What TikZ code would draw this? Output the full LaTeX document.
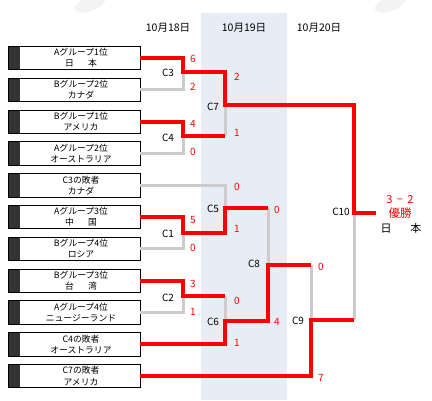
\documentclass[tikz,border=0pt]{standalone}
\usepackage{fontspec}
\newfontfamily\jp{Noto Sans CJK JP}
\definecolor{wred}{RGB}{255,0,0}
\definecolor{lgray}{RGB}{204,204,204}
\definecolor{colbg}{RGB}{230,237,245}
\definecolor{bar}{RGB}{51,51,51}
\definecolor{blob}{RGB}{243,243,243}
\tikzset{
  team/.style={draw=black, line width=0.8pt, minimum width=132pt, minimum height=23.4pt, inner sep=0pt,
    path picture={\fill[bar] (path picture bounding box.north west) rectangle ([xshift=11.5pt]path picture bounding box.south west);}},
  teamtxt/.style={font=\jp\fontsize{8.8}{11.2}\selectfont, align=center, inner sep=0pt},
  hdr/.style={font=\jp\fontsize{10.5}{12}\selectfont, inner sep=0pt},
  mlabel/.style={font=\jp\fontsize{10}{11}\selectfont, inner sep=0pt},
  score/.style={font=\jp\fontsize{10}{11}\selectfont, text=wred, inner sep=0pt},
  win/.style={draw=wred, line width=4pt, line join=miter},
  lose/.style={draw=lgray, line width=3pt, line join=miter},
}
\begin{document}
\begin{tikzpicture}[x=1pt,y=-1pt]
\useasboundingbox (0,0) rectangle (432,400);
\fill[white] (0,0) rectangle (432,400);
% decorative blobs
\fill[blob, rotate around={20:(90,4)}] (90,4) ellipse (16 and 7);
\fill[blob, rotate around={20:(390,4)}] (390,4) ellipse (16 and 7);
% day-2 column
\fill[colbg] (201,13) rectangle (287,400);
% headers
\node[hdr] (h1) at (168,28) {10月18日};
\node[hdr] (h2) at (244,28) {10月19日};
\node[hdr] (h3) at (319,28) {10月20日};
% teams
\foreach \i/\a/\b in {1/Aグループ1位/日\hspace{1.6em}本, 2/Bグループ2位/カナダ, 3/Bグループ1位/アメリカ,
  4/Aグループ2位/オーストラリア, 5/C3の敗者/カナダ, 6/Aグループ3位/中\hspace{1.6em}国,
  7/Bグループ4位/ロシア, 8/Bグループ3位/台\hspace{1.6em}湾, 9/Aグループ4位/ニュージーランド,
  10/C4の敗者/オーストラリア, 11/C7の敗者/アメリカ}{
  \node[team] (t\i) at (74,{58+31.8*(\i-1)}) {};
  \node[teamtxt] (tt\i) at ([xshift=7pt]t\i.center) {\a\\\b};
}
% junction points
\coordinate (c3) at (183,72);
\coordinate (c4) at (183,136);
\coordinate (c7) at (225,105);
\coordinate (c1) at (183,233);
\coordinate (c5) at (225,208);
\coordinate (c2) at (183,296);
\coordinate (c6) at (225,321);
\coordinate (c8) at (268,265);
\coordinate (c9) at (311,320);
\coordinate (c10) at (354,213);
\coordinate (champ) at (376,213);
% losing lines
\draw[lose] (t2.east) -| (c3);
\draw[lose] (t4.east) -| (c4);
\draw[lose] (c4 -| c7) -- (c7);
\draw[lose] (t5.east) -| (c5);
\draw[lose] (t7.east) -| (c1);
\draw[lose] (c5 -| c8) -- (c8);
\draw[lose] (t9.east) -| (c2);
\draw[lose] (c2 -| c6) -- (c6);
\draw[lose] (c8 -| c9) -- (c9);
\draw[lose] (c9 -| c10) -- (c10);
% winning lines
\draw[win] (t1.east) -| (c3) -| (c7) -| (c10) -- (champ);
\draw[win] (t3.east) -| (c4) -- (c4 -| c7);
\draw[win] (t6.east) -| (c1) -| (c5) -- (c5 -| c8);
\draw[win] (t8.east) -| (c2) -- (c2 -| c6);
\draw[win] (t10.east) -| (c6) -| (c8) -- (c8 -| c9);
\draw[win] (t11.east) -| (c9) -- (c9 -| c10);
% match labels
\node[mlabel] (m3) at (168,73) {C3};
\node[mlabel] (m4) at (168,138) {C4};
\node[mlabel] (m7) at (213,107) {C7};
\node[mlabel] (m5) at (213,209) {C5};
\node[mlabel] (m1) at (168,234) {C1};
\node[mlabel] (m2) at (168,298) {C2};
\node[mlabel] (m6) at (213,322) {C6};
\node[mlabel] (m8) at (254,264) {C8};
\node[mlabel] (m9) at (298,321) {C9};
\node[mlabel] (m10) at (341,212) {C10};
% scores
\node[score] at (193,59) {6};
\node[score] at (193,87) {2};
\node[score] at (193,124) {4};
\node[score] at (193,152) {0};
\node[score] at (237,77) {2};
\node[score] at (237,133) {1};
\node[score] at (237,187) {0};
\node[score] at (237,229) {1};
\node[score] at (193,220) {5};
\node[score] at (193,248) {0};
\node[score] at (277,210) {0};
\node[score] at (193,284) {3};
\node[score] at (193,312) {1};
\node[score] at (237,301) {0};
\node[score] at (237,343) {1};
\node[score] at (277,322) {4};
\node[score] at (321,267) {0};
\node[score] at (321,378) {7};
% champion
\node[font=\jp\fontsize{11}{13}\selectfont, text=wred, inner sep=0pt] (fs) at (400,200) {3\hspace{0.4em}−\hspace{0.4em}2};
\node[font=\jp\fontsize{11.5}{13}\selectfont, text=wred, inner sep=0pt] (yu) at (400,213) {優勝};
\node[font=\jp\fontsize{11}{13}\selectfont, inner sep=0pt] (cn) at (401,228) {日\hspace{1.7em}本};
\end{tikzpicture}
\end{document}
